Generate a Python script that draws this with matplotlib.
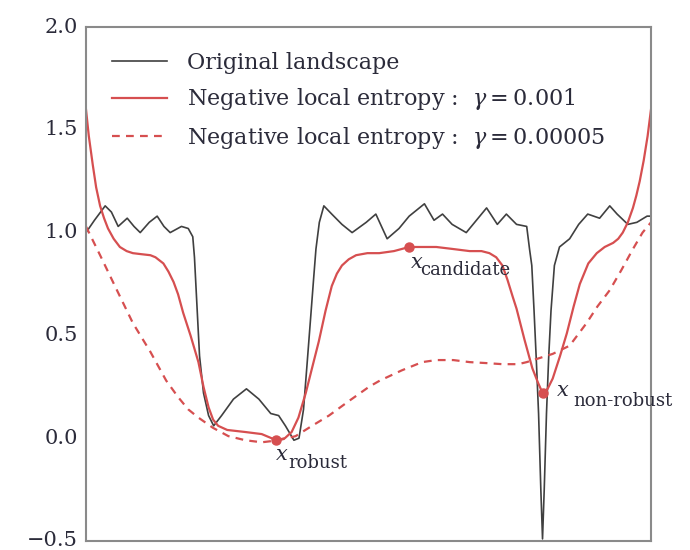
import matplotlib.pyplot as plt

plt.rcParams['font.family'] = ['DejaVu Serif']
plt.rcParams['mathtext.fontset'] = 'dejavuserif'

# Original landscape (position along the 1-D slice, loss)
x_orig = [0.0, 1.5, 3.4, 4.5, 5.7, 7.3, 8.5, 9.6, 11.2, 12.6, 13.8, 14.9, 16.9,
          18.1, 18.9, 19.2, 19.5, 20.1, 20.8, 21.7, 22.6, 24.0, 26.1, 28.4,
          30.6, 32.7, 34.1, 35.3, 36.8, 37.7, 38.5, 39.1, 39.8, 40.3, 40.7,
          41.3, 42.1, 43.5, 45.3, 47.1, 49.6, 51.3, 53.3, 55.4, 57.2, 59.9,
          61.6, 63.1, 64.8, 67.3, 70.9, 72.8, 74.4, 76.2, 78.0, 78.5, 78.9,
          79.3, 79.7, 80.1, 80.5, 80.8, 81.1, 81.5, 81.9, 82.3, 82.9, 83.8,
          85.6, 87.2, 88.8, 90.9, 92.7, 94.0, 95.9, 97.5, 99.3, 100.0]
y_orig = [1.00, 1.06, 1.13, 1.10, 1.03, 1.07, 1.03, 1.00, 1.05, 1.08, 1.03,
          1.00, 1.03, 1.02, 0.98, 0.88, 0.72, 0.40, 0.22, 0.11, 0.06, 0.11,
          0.19, 0.24, 0.19, 0.12, 0.11, 0.06, -0.01, 0.00, 0.14, 0.35, 0.60,
          0.78, 0.92, 1.05, 1.13, 1.09, 1.04, 1.00, 1.05, 1.09, 0.97, 1.02,
          1.08, 1.14, 1.06, 1.09, 1.04, 1.00, 1.12, 1.04, 1.09, 1.04, 1.03,
          0.92, 0.84, 0.62, 0.38, 0.12, -0.25, -0.49, -0.25, 0.12, 0.40, 0.62,
          0.84, 0.93, 0.97, 1.04, 1.09, 1.07, 1.13, 1.09, 1.04, 1.05, 1.08,
          1.08]

# Negative local entropy, gamma = 0.001
x_le1 = [0.0, 0.5, 1.2, 1.8, 2.5, 3.2, 3.9, 4.9, 6.0, 7.2, 8.3, 9.8, 11.4,
         12.3, 13.7, 14.6, 15.5, 16.3, 17.2, 18.5, 19.9, 20.8, 21.7, 22.5,
         23.4, 25.0, 28.2, 31.1, 33.7, 35.2, 36.4, 37.6, 38.9, 40.0, 41.2,
         42.4, 43.5, 44.4, 45.3, 46.5, 47.8, 49.8, 51.9, 54.5, 57.2, 59.6,
         62.0, 65.0, 67.9, 70.0, 71.4, 72.6, 73.7, 74.6, 75.5, 76.2, 77.6,
         79.0, 80.0, 80.8, 81.7, 82.6, 83.9, 85.1, 86.3, 87.4, 88.9, 90.4,
         91.8, 93.3, 94.2, 95.0, 95.9, 96.8, 97.4, 98.0, 98.7, 99.4, 100.0]
y_le1 = [1.60, 1.47, 1.33, 1.22, 1.13, 1.07, 1.02, 0.97, 0.93, 0.91, 0.90,
         0.895, 0.89, 0.88, 0.85, 0.81, 0.76, 0.70, 0.61, 0.50, 0.37, 0.25,
         0.15, 0.09, 0.06, 0.04, 0.03, 0.02, -0.01, 0.00, 0.03, 0.10, 0.22,
         0.34, 0.47, 0.62, 0.74, 0.80, 0.84, 0.87, 0.89, 0.90, 0.90, 0.91,
         0.93, 0.93, 0.93, 0.92, 0.91, 0.91, 0.90, 0.88, 0.84, 0.77, 0.69,
         0.63, 0.48, 0.34, 0.27, 0.22, 0.24, 0.29, 0.40, 0.51, 0.64, 0.75,
         0.85, 0.90, 0.93, 0.95, 0.97, 1.00, 1.05, 1.12, 1.18, 1.25, 1.35,
         1.47, 1.60]

# Negative local entropy, gamma = 0.00005
x_le2 = [0.0, 2.5, 5.3, 8.3, 11.4, 14.2, 16.3, 18.1, 19.9, 22.5, 25.2, 28.2,
         31.1, 34.1, 37.1, 40.0, 43.0, 46.5, 50.1, 52.0, 55.9, 59.5, 62.0,
         65.0, 67.9, 71.0, 73.7, 76.5, 78.0, 82.6, 85.6, 88.6, 90.5, 92.7,
         94.8, 96.8, 98.5, 100.0]
y_le2 = [1.03, 0.89, 0.73, 0.56, 0.42, 0.28, 0.20, 0.14, 0.10, 0.05, 0.01,
         -0.01, -0.02, -0.01, 0.01, 0.06, 0.11, 0.18, 0.25, 0.28, 0.33, 0.37,
         0.38, 0.38, 0.37, 0.365, 0.36, 0.36, 0.37, 0.41, 0.45, 0.56, 0.64,
         0.72, 0.82, 0.92, 1.00, 1.05]

# highlighted minima on the gamma = 0.001 curve
pt_subs = ['robust', 'candidate', 'non-robust']
pt_x = [33.7, 57.2, 80.8]
pt_y = [-0.01, 0.93, 0.22]

red = '#d64f50'
ink = '#2b2b3a'

fig = plt.figure(figsize=(6.9, 5.5), dpi=100)
ax = fig.add_axes([0.1246, 0.0164, 0.8189, 0.9345])

ax.plot(x_orig, y_orig, color='#404040', lw=1.2, solid_joinstyle='round',
        label='Original landscape')
ax.plot(x_le1, y_le1, color=red, lw=1.6, solid_joinstyle='round',
        label=r'Negative local entropy :  $\gamma = 0.001$')
ax.plot(x_le2, y_le2, color=red, lw=1.6, ls=(0, (3.5, 2.8)),
        label=r'Negative local entropy :  $\gamma = 0.00005$')
ax.plot(pt_x, pt_y, 'o', color=red, ms=6.5, zorder=5)

# "x" with a near full-size subscript, offsets in points from each marker
x_off = [(-0.7, -14.4), (0.7, -15.0), (10.0, -2.2)]
sub_off = [(8.3, -20.3), (7.6, -20.0), (21.8, -9.5)]
for sub, px, py, xo, so in zip(pt_subs, pt_x, pt_y, x_off, sub_off):
    ax.annotate(r'$x$', (px, py), xytext=xo, textcoords='offset points',
                fontsize=15, ha='left', va='baseline', color=ink)
    ax.annotate(sub, (px, py), xytext=so, textcoords='offset points',
                fontsize=13, ha='left', va='baseline', color=ink)

ax.set_xlim(0, 100)
ax.set_ylim(-0.5, 2.0)
ax.set_xticks([])
ax.set_yticks([-0.5, 0.0, 0.5, 1.0, 1.5, 2.0])
ax.tick_params(axis='y', length=0, pad=6, labelsize=15, labelcolor=ink)
for lab in ax.get_yticklabels():
    lab.set_verticalalignment('center')
for s in ax.spines.values():
    s.set_color('#8a8a8a')
    s.set_linewidth(1.5)

ax.legend(loc='upper left', bbox_to_anchor=(0.01, 0.99), frameon=False,
          fontsize=16, handlelength=2.5, handletextpad=0.9, labelspacing=0.55,
          labelcolor=ink)

fig.savefig('out.png', dpi=100)
